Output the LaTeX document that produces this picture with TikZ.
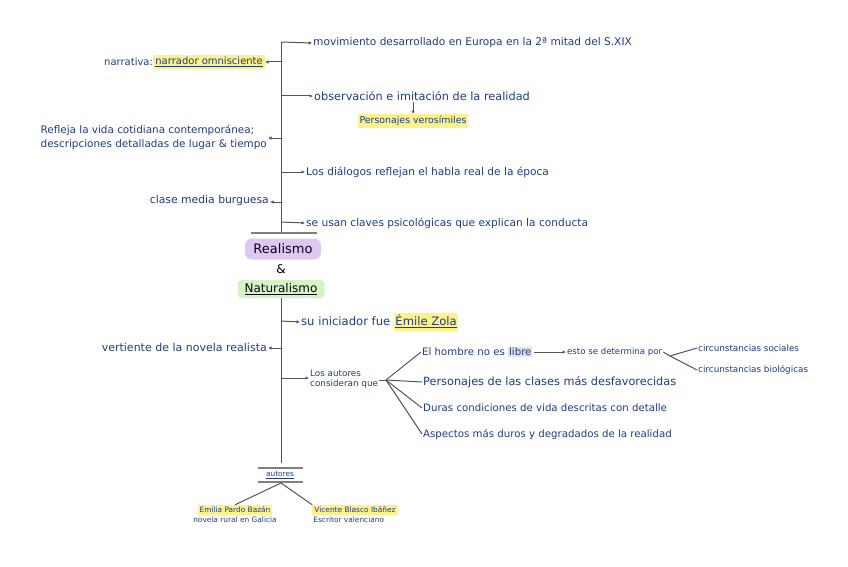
\documentclass[tikz,border=0pt]{standalone}
\usepackage{fontspec}
\setmainfont{DejaVu Sans}
\usetikzlibrary{arrows.meta}
\definecolor{ink}{HTML}{1E3A8C}
\definecolor{linec}{HTML}{555555}
\definecolor{hlyellow}{HTML}{FBF28A}
\definecolor{hlpurple}{HTML}{DCC8F2}
\definecolor{hlgreen}{HTML}{D3F5C6}
\definecolor{hlgrey}{HTML}{E2E2E6}
\newcommand{\hly}[1]{{\setlength{\fboxsep}{1.5pt}\colorbox{hlyellow}{\strut #1}}}
\newcommand{\fs}[1]{\fontsize{#1}{#1}\selectfont}
\begin{document}
\begin{tikzpicture}[x=1pt,y=-1pt,
  txt/.style={font=\fs{10.6}, text=ink, inner sep=1pt},
  stxt/.style={font=\fs{10.4}, text=ink, inner sep=1pt},
  tiny/.style={font=\fs{7.4}, text=ink, inner sep=1pt},
  conn/.style={draw=linec, line width=1pt},
  arr/.style={conn, -{Latex[length=3.5pt,width=3.5pt]}},
  hl/.style={fill=hlyellow, inner sep=2pt},
  title/.style={font=\fs{13}, text=black!85!violet, rounded corners=7pt, inner sep=2pt}]
\useasboundingbox (0,0) rectangle (848,567);
% ---------- top part ----------
\coordinate (top) at (281,42);
\coordinate (barC) at (281,233);
\coordinate (barL) at (251,233);
\coordinate (barR) at (317,233);
\draw[conn] (top) -- (barC);
\draw[conn, line width=1.6pt, draw=gray] (barL) -- (barR);
% right branches
\node[txt, anchor=west] (m1) at (312,43) {movimiento desarrollado en Europa en la 2ª mitad del S.XIX};
\draw[arr] (top) -- (m1.west);
\coordinate (j2) at (281,96);
\node[txt, anchor=west, font=\fs{11.3}] (m2) at (313,96) {observación e imitación de la realidad};
\draw[arr] (j2) -- (m2.west);
\node[stxt, hl, font=\fs{9.4}] (m2b) at (413,121) {Personajes verosímiles};
\draw[arr] (m2.south -| m2b) -- (m2b.north);
\coordinate (j3) at (281,172);
\node[txt, anchor=west] (m3) at (305,172) {Los diálogos reflejan el habla real de la época};
\draw[arr] (j3) -- (m3.west);
\coordinate (j4) at (281,222);
\node[txt, anchor=west] (m4) at (305,223) {se usan claves psicológicas que explican la conducta};
\draw[arr] (j4) -- (m4.west);
% left branches
\coordinate (k1) at (281,62);
\node[stxt, hl, anchor=east, font=\fs{10}] (n1b) at (265,62) {\underline{narrador omnisciente}};
\node[stxt, anchor=east, inner sep=0pt, font=\fs{10}] (n1a) at (n1b.west) {narrativa:};
\draw[arr] (k1) -- (n1b.east);
\coordinate (k2) at (281,138);
\node[stxt, anchor=east, align=left, font=\fontsize{10.4}{14}\selectfont] (n2) at (268,137) {Refleja la vida cotidiana contemporánea;\\descripciones detalladas de lugar \& tiempo};
\draw[arr] (k2) -- (n2.east |- k2);
\coordinate (k3) at (281,202);
\node[stxt, anchor=east, font=\fs{10.8}] (n3) at (270,201) {clase media burguesa};
\draw[arr] (k3) -- (n3.east |- k3);
% ---------- title ----------
\node[title, fill=hlpurple, minimum width=76pt, minimum height=21pt] (real) at (283,249) {\textsc{Realismo}};
\node[font=\fs{12}] (amp) at (281,269) {\&};
\node[title, fill=hlgreen, minimum width=87pt, minimum height=18pt, rounded corners=4pt, font=\fs{12}] (nat) at (281,289) {\underline{\textsc{Naturalismo}}};
% ---------- bottom part ----------
\coordinate (bot) at (281,463);
\draw[conn] (nat.south) -- (bot);
\coordinate (b1) at (281,321);
\node[txt, anchor=west, font=\fs{11.6}] (s1) at (300,322) {su iniciador fue \hly{\underline{Émile Zola}}};
\draw[arr] (b1) -- (s1.west);
\coordinate (c1) at (281,348);
\node[stxt, anchor=east, font=\fs{11}] (l1) at (268,347) {vertiente de la novela realista};
\draw[arr] (c1) -- (l1.east |- c1);
\coordinate (b2) at (281,378);
\node[stxt, anchor=west, align=left, font=\fontsize{8.8}{10.5}\selectfont] (s2) at (309,379) {Los autores\\consideran que};
\draw[arr] (b2) -- (s2.west |- b2);
\coordinate (fan) at (386,380);
\node[txt, anchor=west, font=\fs{10.2}] (f1) at (421,352) {El hombre no es {\setlength{\fboxsep}{1pt}\colorbox{hlgrey}{libre}}};
\node[txt, anchor=west, font=\fs{11.3}] (f2) at (422,382) {Personajes de las clases más desfavorecidas};
\node[txt, anchor=west, font=\fs{10.2}] (f3) at (422,408) {Duras condiciones de vida descritas con detalle};
\node[txt, anchor=west, font=\fs{10.2}] (f4) at (422,434) {Aspectos más duros y degradados de la realidad};
\draw[conn] (s2.east |- fan) -- (fan);
\draw[conn] (fan) -- (f1.west);
\draw[conn] (fan) -- (f2.west);
\draw[conn] (fan) -- (f3.west);
\draw[conn] (fan) -- (f4.west);
\node[stxt, anchor=west, font=\fs{8.6}] (g1) at (566,352) {esto se determina por};
\draw[arr] (f1.east) -- (g1.west);
\coordinate (fan2) at (670,356);
\draw[conn] (g1.east) -- (fan2);
\node[stxt, anchor=west, font=\fs{8.8}] (h1) at (697,348) {circunstancias sociales};
\node[stxt, anchor=west, font=\fs{8.8}] (h2) at (697,370) {circunstancias biológicas};
\draw[conn] (fan2) -- (h1.west);
\draw[conn] (fan2) -- (h2.west);
% ---------- autores ----------
\node[tiny, minimum width=44pt] (aut) at (280,475) {\underline{autores}};
\coordinate (a1L) at (258,468);
\coordinate (a1R) at (303,468);
\coordinate (a2L) at (258,482);
\coordinate (a2R) at (303,482);
\draw[conn, draw=gray, line width=1.4pt] (a1L) -- (a1R);
\draw[conn, draw=gray, line width=1.4pt] (a2L) -- (a2R);
\coordinate (ac) at (281,483);
\node[tiny, fill=hlyellow, inner sep=2pt] (e1) at (235,510) {Emilia Pardo Bazán};
\node[tiny, anchor=north] (e1b) at (e1.south) {novela rural en Galicia};
\node[tiny, fill=hlyellow, inner sep=2pt] (e2) at (355,510) {Vicente Blasco Ibáñez};
\node[tiny, anchor=north west] (e2b) at (e2.south west) {Escritor valenciano};
\draw[conn] (ac) -- (e1.north);
\draw[conn] (ac) -- (e2.north west);
\end{tikzpicture}
\end{document}
